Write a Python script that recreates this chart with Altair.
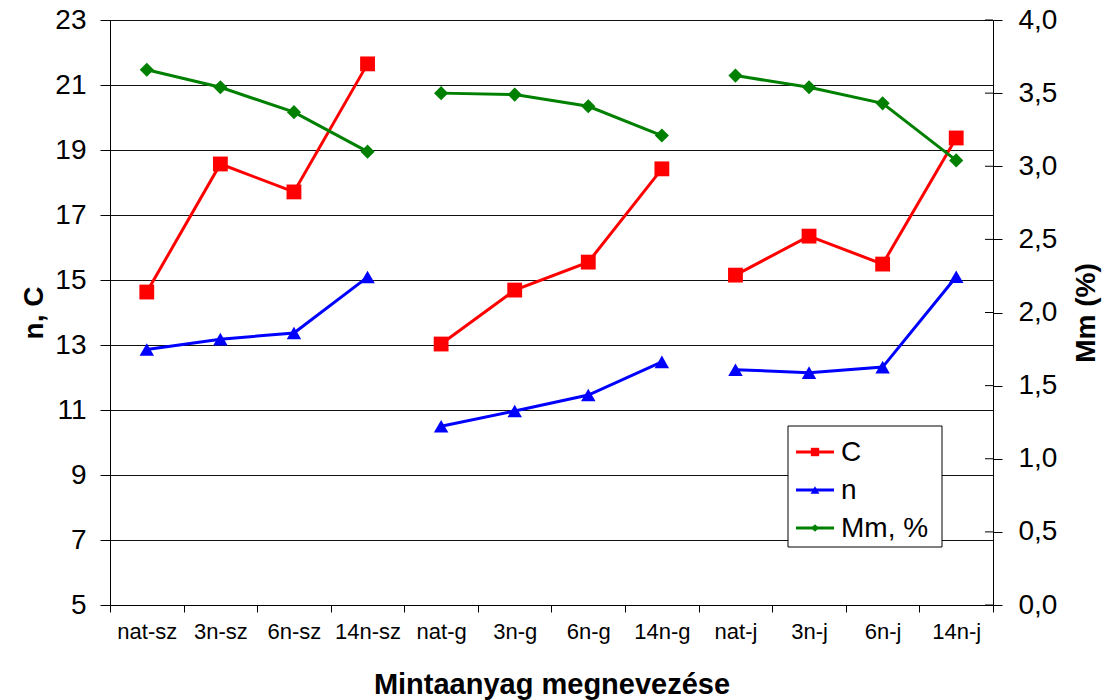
import altair as alt
import pandas as pd

# Sample names (x axis) and their material groups
categories = ["nat-sz", "3n-sz", "6n-sz", "14n-sz",
              "nat-g", "3n-g", "6n-g", "14n-g",
              "nat-j", "3n-j", "6n-j", "14n-j"]
groups = ["sz"] * 4 + ["g"] * 4 + ["j"] * 4

# Measured series
c_values = [14.63, 18.57, 17.71, 21.65,
            13.03, 14.69, 15.55, 18.42,
            15.15, 16.35, 15.49, 19.37]
n_values = [12.86, 13.18, 13.37, 15.09,
            10.50, 10.97, 11.46, 12.48,
            12.24, 12.15, 12.32, 15.10]
mm_values = [3.66, 3.54, 3.37, 3.10,
             3.50, 3.49, 3.41, 3.21,
             3.62, 3.54, 3.43, 3.04]

series_names = ["C", "n", "Mm, %"]
series_colors = ["#FF0000", "#0000FF", "#008000"]
series_shapes = ["square", "triangle-up", "diamond"]
series_sizes = [220, 200, 180]
legend_marker_sizes = [70, 80, 60]

left_ticks = [5, 7, 9, 11, 13, 15, 17, 19, 21, 23]
right_ticks = [0, 0.5, 1, 1.5, 2, 2.5, 3, 3.5, 4]

FONT = "Liberation Sans"
W, H = 883, 585
BIG = 28

rows_left = []
for name, vals in (("C", c_values), ("n", n_values)):
    for cat, grp, v in zip(categories, groups, vals):
        rows_left.append({"cat": cat, "grp": grp, "series": name, "value": v})
df_left = pd.DataFrame(rows_left)
df_right = pd.DataFrame({"cat": categories, "grp": groups,
                         "series": "Mm, %", "value": mm_values})
df_rticks = pd.DataFrame({"value": right_ticks})

x_enc = alt.X("cat:N", sort=categories,
              scale=alt.Scale(type="band", paddingInner=0, paddingOuter=0),
              axis=alt.Axis(title="Mintaanyag megnevezése", tickBand="extent",
                            labelAngle=0, labelFont=FONT, labelFontSize=22,
                            labelColor="#000", labelPadding=9,
                            tickSize=7, tickColor="#000", domainColor="#000",
                            titleFont=FONT, titleFontSize=29, titleFontWeight="bold",
                            titleColor="#000", titleX=W / 2, titleY=79,
                            titleBaseline="middle", grid=False))

color_enc = alt.Color("series:N",
                      scale=alt.Scale(domain=series_names, range=series_colors),
                      legend=None)
shape_enc = alt.Shape("series:N",
                      scale=alt.Scale(domain=series_names, range=series_shapes),
                      legend=None)
size_enc = alt.Size("series:N",
                    scale=alt.Scale(domain=series_names, range=series_sizes),
                    legend=None)

y_left = alt.Y("value:Q",
               scale=alt.Scale(domain=[5, 23], nice=False, zero=False),
               axis=alt.Axis(title="n, C", values=left_ticks, grid=True,
                             gridColor="#111", gridWidth=1, gridOpacity=1,
                             labelFont=FONT, labelFontSize=BIG, labelColor="#000",
                             labelPadding=14, tickSize=10, tickColor="#000",
                             domainColor="#000",
                             titleFont=FONT, titleFontSize=BIG, titleFontWeight="bold",
                             titleColor="#000", titleAngle=-90, titleX=-76,
                             titleY=H / 2, titleBaseline="middle"))

y_right = alt.Y("value:Q",
                scale=alt.Scale(domain=[0, 4], nice=False, zero=False),
                axis=alt.Axis(title="Mm (%)", orient="right", values=right_ticks,
                              grid=False,
                              labelExpr="replace(format(datum.value, '.1f'), '.', ',')",
                              labelFont=FONT, labelFontSize=BIG, labelColor="#000",
                              labelPadding=16, tickSize=9, tickColor="#000",
                              domainColor="#000",
                              titleFont=FONT, titleFontSize=BIG, titleFontWeight="bold",
                              titleColor="#000", titleAngle=-90, titleX=93,
                              titleY=H / 2, titleBaseline="middle"))

left_lines = alt.Chart(df_left).mark_line(strokeWidth=3).encode(
    x=x_enc, y=y_left, color=color_enc, detail="grp:N")
left_points = alt.Chart(df_left).mark_point(filled=True, opacity=1).encode(
    x=x_enc, y=y_left, color=color_enc, shape=shape_enc, size=size_enc)
right_lines = alt.Chart(df_right).mark_line(strokeWidth=3).encode(
    x=x_enc, y=y_right, color=color_enc, detail="grp:N")
right_points = alt.Chart(df_right).mark_point(filled=True, opacity=1).encode(
    x=x_enc, y=y_right, color=color_enc, shape=shape_enc, size=size_enc)
# inner half of the secondary-axis tick marks (they cross the axis line)
right_inner_ticks = alt.Chart(df_rticks).mark_rule(color="#000", strokeWidth=1).encode(
    x=alt.value(W - 8), x2=alt.value(W), y=alt.Y("value:Q"))

left = alt.layer(left_lines, left_points)
right = alt.layer(right_inner_ticks, right_lines, right_points)

# Boxed legend inside the plot area
one = pd.DataFrame({"k": [0]})
legend_layers = [
    alt.Chart(one).mark_rect(fill="white", stroke="#000", strokeWidth=1).encode(
        x=alt.value(678), x2=alt.value(832), y=alt.value(406), y2=alt.value(527))
]
for i, (name, col, shp, msz) in enumerate(zip(series_names, series_colors,
                                              series_shapes, legend_marker_sizes)):
    yy = 432 + 38 * i
    legend_layers.append(
        alt.Chart(one).mark_rule(color=col, strokeWidth=3).encode(
            x=alt.value(686), x2=alt.value(724), y=alt.value(yy)))
    legend_layers.append(
        alt.Chart(one).mark_point(filled=True, opacity=1, color=col, shape=shp,
                                  size=msz).encode(
            x=alt.value(705), y=alt.value(yy)))
    legend_layers.append(
        alt.Chart(one).mark_text(text=name, font=FONT, fontSize=BIG, color="#000",
                                 align="left", baseline="middle").encode(
            x=alt.value(731), y=alt.value(yy + 1)))

chart = alt.layer(left, right, *legend_layers).resolve_scale(
    y="independent"
).properties(
    width=W, height=H,
    autosize=alt.AutoSizeParams(type="none"),
    padding={"left": 110, "top": 20, "right": 111, "bottom": 95},
).configure_view(stroke=None).configure(background="white")

chart.save("out.html", embed_options={"renderer": "svg", "actions": False})
